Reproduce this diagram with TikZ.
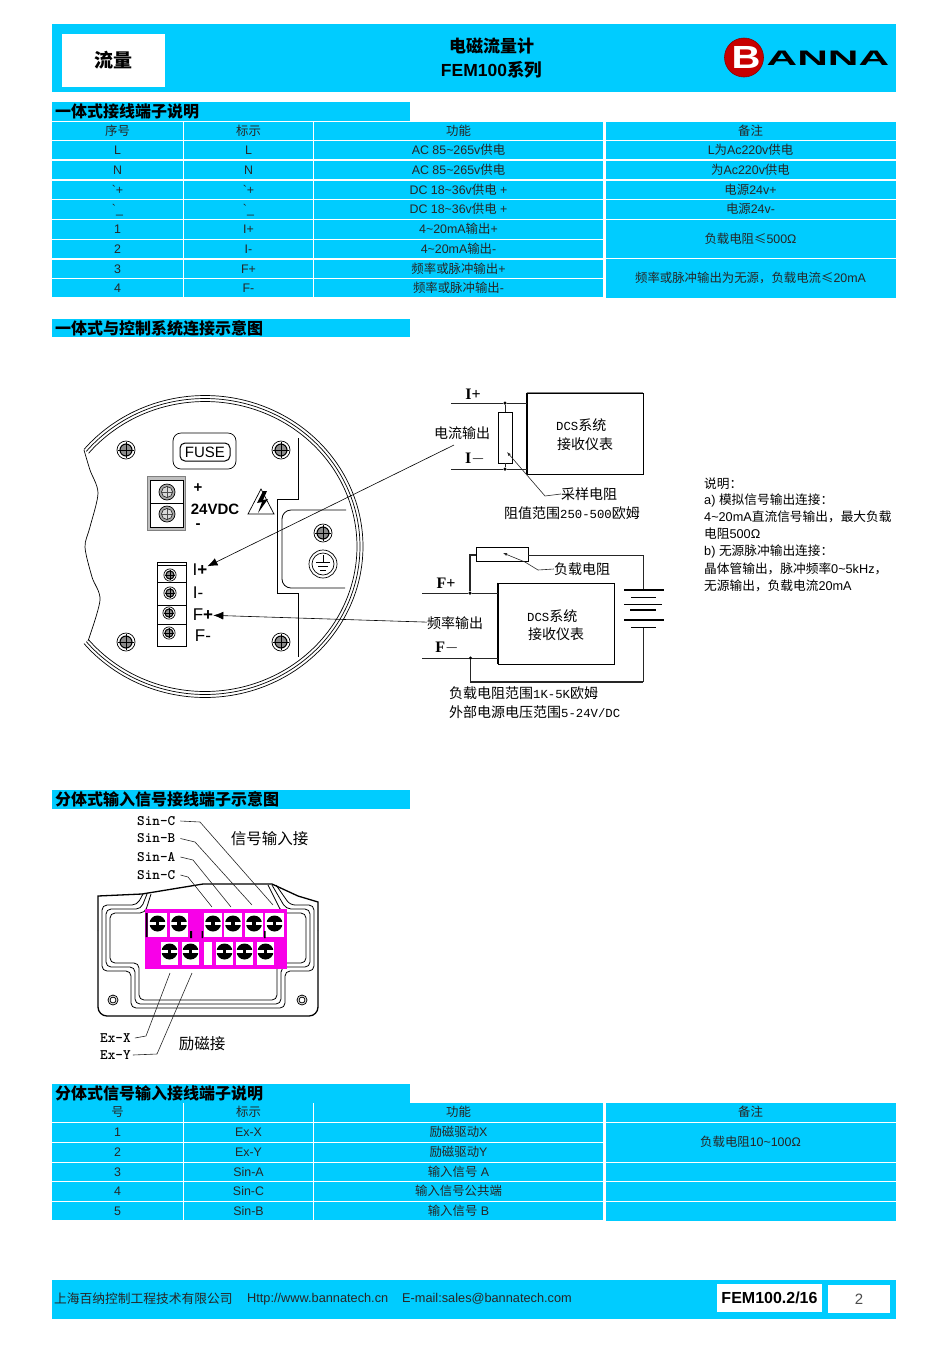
\documentclass[tikz,border=0pt]{standalone}
\usepackage{fontspec}
\setmainfont{Liberation Sans}
\newfontfamily\cjk{Noto Sans CJK SC}
\newfontfamily\slab{Liberation Serif}
\newfontfamily\lmono{Liberation Mono}
\usetikzlibrary{arrows.meta}
\definecolor{bannablue}{HTML}{00CCFF}
\definecolor{termpink}{HTML}{F800E8}
\newcommand{\fs}[1]{\fontsize{#1}{#1}\selectfont}
\newcommand{\cn}[1]{{\cjk #1}}
\newcommand{\lm}[1]{{\lmono\fs{12.3}#1}}
\newcommand{\tld}{\textasciitilde}
\tikzset{
	cell/.style={fill=bannablue,inner sep=0pt,minimum height=18.5pt,text height=10pt,text depth=2pt,font=\fs{12.4},text=black!85},
	cola/.style={cell,minimum width=131pt},
	colb/.style={cell,minimum width=129pt},
	colc/.style={cell,minimum width=289pt},
	cold/.style={cell,minimum width=290pt},
	secbar/.style={fill=bannablue,anchor=west,inner sep=0pt,inner xsep=3pt,text width=352pt,text height=13.5pt,text depth=1.5pt,minimum height=18.5pt,font=\fs{16}\bfseries},
	lbl/.style={inner sep=0pt,font=\fs{14}\cjk},
	mixed/.style={inner sep=0pt,anchor=west,font=\fs{14}},
	mono/.style={inner sep=0pt,anchor=west,font=\fs{14.5}\ttfamily\bfseries},
	note/.style={inner sep=0pt,anchor=west,font=\fs{12.7}},
	pole/.style={inner sep=0pt,font=\fs{16}\slab\bfseries},
	wire/.style={line width=.8pt,black!85},
	pointer/.style={line width=.6pt,-{Latex[length=10pt,width=8pt]}},
	leader/.style={line width=.6pt,black!85},
	dot/.style={circle,fill=black,inner sep=0pt,minimum size=3.5pt},
	screw/.pic={
		\draw[line width=.7pt,fill=white] (0,0) circle (9pt);
		\draw[line width=1.1pt,fill=black!45] (0,0) circle (6pt);
		\draw[line width=.8pt] (-8,0) -- (8,0) (0,-8) -- (0,8);
	},
	lightscrew/.pic={
		\draw[line width=.7pt,fill=black!35] (0,0) circle (8pt);
		\draw[line width=.5pt,fill=black!15] (0,0) circle (5.5pt);
		\draw[black!70,line width=.9pt] (-5,0) -- (5,0) (0,-5) -- (0,5);
	},
	lug/.pic={
		\fill[black] (0,0) circle (8pt);
		\fill[white] (-8.5,-1.5) rectangle (8.5,1.5);
		\fill[black] (-1.8,-2.5) rectangle (1.8,2.5);
	}
}
\begin{document}
\begin{tikzpicture}[x=1pt,y=-1pt]
	\useasboundingbox (0,0) rectangle (950,1345);
	% banner
	\fill[bannablue] (52,24) rectangle (896,92);
	\node[fill=white,minimum width=103pt,minimum height=53pt,inner sep=0pt,font=\fs{19}\bfseries\cjk] (kind) at (113.5,60.5) {流量};
	\node[inner sep=0pt,font=\fs{17}\bfseries\cjk] (title) at (491.5,46) {电磁流量计};
	\node[inner sep=0pt,font=\fs{17.5}\bfseries] (series) at (491.5,70) {FEM100\cn{系列}};
	\node[circle,draw=red!55!black,fill=red!78!black,line width=.6pt,minimum size=39pt,inner sep=0pt] (logoring) at (744,57.5) {};
	\node[inner sep=0pt,xscale=1.25,text=white,font=\fs{32}\bfseries] (logob) at (746,57.5) {B};
	\node[inner sep=0pt,xscale=2.02,font=\fs{21}\bfseries] (logoname) at (828,58.5) {ANNA};

	% first table
	\node[secbar] (seca) at (52,111.5) {\cn{一体式接线端子说明}};
	\foreach \ry/\ta/\tb/\tc in {
		131/\cn{序号}/\cn{标示}/\cn{功能},
		150/L/L/{AC 85\tld265v\cn{供电}},
		170/N/N/{AC 85\tld265v\cn{供电}},
		190/\textasciigrave+/\textasciigrave+/{DC 18\tld36v\cn{供电} +},
		209.5/\textasciigrave\_/\textasciigrave\_/{DC 18\tld36v\cn{供电} +},
		229.5/1/I+/{4\tld20mA\cn{输出}+},
		249/2/I-/{4\tld20mA\cn{输出}-},
		269/3/F+/{\cn{频率或脉冲输出}+},
		288/4/F-/{\cn{频率或脉冲输出}-}}{
		\node[cola] (a\ry) at (117.5,\ry) {\ta};
		\node[colb] (b\ry) at (248.5,\ry) {\tb};
		\node[colc] (c\ry) at (458.5,\ry) {\tc};
	}
	\foreach \ry/\td in {
		131/\cn{备注},
		150/L\cn{为}Ac220v\cn{供电},
		170/\cn{为}Ac220v\cn{供电},
		190/\cn{电源}24v+,
		209.5/\cn{电源}24v-}{
		\node[cold] (d\ry) at (750.5,\ry) {\td};
	}
	\node[cold,minimum height=38.5pt] (dload) at (750.5,239) {\cn{负载电阻≤}500Ω};
	\node[cold,minimum height=38.5pt] (dpulse) at (750.5,278.5) {\cn{频率或脉冲输出为无源，负载电流≤}20mA};

	\node[secbar] (secb) at (52,328) {\cn{一体式与控制系统连接示意图}};

	% meter body
	\foreach \ox/\oy in {158/151,155/148,152/145}{
		\draw[line width=.7pt] plot[smooth,domain=140:-140,samples=90] ({205+\ox*cos(\x)},{546.5-\oy*sin(\x)});
	}
	\draw[line width=.7pt] plot[smooth] coordinates {(84,450) (90,470) (98,493) (90,527) (85,547) (92,577) (100,600) (88,641)};
	\draw[line width=.9pt] (298,438) -- (298,499) -- (277,499) -- (277,593) -- (298,593) -- (298,657);
	\draw[line width=.8pt,rounded corners=9pt] (346,510) -- (282,510) -- (282,588) -- (345,588);
	\foreach \sx/\sy in {126/450,281/450,126/642,281/642,323/533}{
		\pic at (\sx,\sy) {screw};
	}
	\draw[line width=.7pt] (323,564) circle (14pt) circle (11pt);
	\draw[line width=.7pt] (323,555) -- (323,562) (316,562) -- (330,562) (318,566) -- (328,566) (320,570) -- (326,570);
	\node[draw,rounded corners=8pt,line width=.7pt,minimum width=63pt,minimum height=36pt] (fusecase) at (204.5,451) {};
	\node[draw,rounded corners=5pt,line width=1pt,minimum width=50pt,minimum height=18pt,inner sep=0pt,font=\fs{15}] (fuse) at (205,452) {FUSE};
	% 24V terminal
	\draw[gray,fill=black!25] (147,476) rectangle (185,530);
	\draw[fill=white,line width=1pt] (150,480) rectangle (183,503) (150,503) rectangle (183,527);
	\pic at (167,492) {lightscrew};
	\pic at (167,514) {lightscrew};
	\node[inner sep=0pt,font=\fs{15}\bfseries] (vplus) at (198,488) {+};
	\node[inner sep=0pt,font=\fs{15}\bfseries] (vname) at (215,509) {24VDC};
	\node[inner sep=0pt,font=\fs{15}\bfseries] (vminus) at (198,526) {-};
	\draw[line width=.7pt] (248,514) -- (261,489) -- (274,514) -- cycle;
	\fill (263,491) -- (257,503) -- (262,502) -- (258,513) -- (268,499) -- (263,500) -- (267,491) -- cycle;
	% signal terminal
	\draw[line width=.9pt,fill=white] (157,562) rectangle (186,646);
	\draw[line width=.9pt] (157,565) -- (186,565) (157,582) -- (186,582) (157,605) -- (186,605) (157,624) -- (186,624);
	\foreach \sx/\sy in {170/575,170/593,169/613,169/633}{
		\pic[scale=.68] at (\sx,\sy) {screw};
	}
	\node[inner sep=0pt,font=\fs{17}] (iplus) at (200,570) {I\textbf{+}};
	\node[inner sep=0pt,font=\fs{17}] (iminus) at (198,593) {I-};
	\node[inner sep=0pt,font=\fs{17}] (fplus) at (203,615) {F\textbf{+}};
	\node[inner sep=0pt,font=\fs{17}] (fminus) at (203,636) {F-};

	% current loop
	\node[draw,minimum width=116pt,minimum height=81pt,inner sep=0pt,line width=.8pt] (dcsa) at (585,433.5) {};
	\draw[gray,line width=1.2pt] (dcsa.north west) -- (dcsa.north east);
	\draw[line width=1.2pt] (dcsa.north west) -- (dcsa.south west);
	\node[mixed] (dcsatop) at (556,425) {\lm{DCS}\cn{系统}};
	\node[lbl] (dcsabot) at (585,444) {接收仪表};
	\node[draw,minimum width=14pt,minimum height=51pt,inner sep=0pt,line width=.9pt] (sampres) at (505,437.5) {};
	\coordinate (ipin) at (451,403);
	\coordinate (imin) at (451,469);
	\node[dot] (idot) at (505,403) {};
	\node[dot] (jdot) at (505,469) {};
	\draw[wire] (ipin) -- (idot) -- (idot -| dcsa.west);
	\draw[wire] (imin) -- (jdot) -- (jdot -| dcsa.west);
	\draw[wire] (idot) -- (sampres);
	\draw[wire] (jdot) -- (sampres);
	\node[pole] (ipole) at (473,394) {I+};
	\node[pole] (ipolem) at (475,459) {I$-$};
	\node[lbl] (curlabel) at (462,433) {电流输出};
	\coordinate (curtail) at (454,445);
	\draw[pointer] (curtail) -- (iplus);
	\node[lbl] (samplabel) at (589,494) {采样电阻};
	\coordinate (sampbend) at (545,496);
	\coordinate (sampknee) at (526,474);
	\coordinate (samptip) at (507,452);
	\draw[leader,-{Latex[length=4pt,width=3pt]}] (samplabel.west) -- (sampbend) -- (sampknee) -- (samptip);
	\node[mixed] (samprange) at (504,513) {\cn{阻值范围}\lm{250-500}\cn{欧姆}};

	% frequency loop
	\node[draw,minimum width=116pt,minimum height=81pt,inner sep=0pt,line width=.8pt] (dcsb) at (556,623.5) {};
	\draw[line width=1.2pt] (dcsb.north west) -- (dcsb.south west);
	\node[mixed] (dcsbtop) at (527,616) {\lm{DCS}\cn{系统}};
	\node[lbl] (dcsbbot) at (556,634) {接收仪表};
	\node[draw,minimum width=52pt,minimum height=14pt,inner sep=0pt,line width=.9pt] (loadres) at (502,554) {};
	\coordinate (fpin) at (422,593);
	\coordinate (fmin) at (422,658);
	\node[dot] (fdot) at (470,593) {};
	\node[dot] (gdot) at (470.5,658) {};
	\coordinate (loadleft) at (470,555);
	\coordinate (batright) at (643,555);
	\coordinate (battop) at (643,590);
	\coordinate (batbot) at (643,627);
	\coordinate (retright) at (643,682);
	\coordinate (retleft) at (470.5,682);
	\draw[wire] (fpin) -- (fdot) -- (fdot -| dcsb.west);
	\draw[wire] (fmin) -- (gdot) -- (gdot -| dcsb.west);
	\draw[wire,line width=1.1pt] (fdot) -- (loadleft) -- (loadleft -| loadres.west);
	\draw[wire] (loadres.east |- batright) -- (batright) -- (battop);
	\draw[wire] (batbot) -- (retright);
	\draw[wire,line width=1.1pt] (retright) -- (retleft) -- (gdot);
	\draw[line width=1.3pt] (624,590) -- (664,590) (624,620) -- (664,620) (630,610) -- (656,610);
	\draw[line width=.6pt] (631,597) -- (656,597) (624,604) -- (662,604) (631,627) -- (656,627);
	\node[pole] (fpole) at (446,583) {F+};
	\node[pole] (fpolem) at (447,648) {F$-$};
	\node[lbl] (loadlabel) at (582,569) {负载电阻};
	\coordinate (loadbend) at (538,570);
	\coordinate (loadknee) at (525,562);
	\coordinate (loadtip) at (503,553);
	\draw[leader,-{Latex[length=4pt,width=3pt]}] (loadlabel.west) -- (loadbend) -- (loadknee) -- (loadtip);
	\node[lbl] (freqlabel) at (455,623) {频率输出};
	\draw[pointer] (freqlabel) -- (fplus);
	\node[mixed] (loadrange) at (449,693) {\cn{负载电阻范围}\lm{1K-5K}\cn{欧姆}};
	\node[mixed] (powerrange) at (449,712) {\cn{外部电源电压范围}\lm{5-24V/DC}};

	% remarks
	\foreach \ny/\nt in {
		484/\cn{说明：},
		500/a) \cn{模拟信号输出连接：},
		517/4\tld20mA\cn{直流信号输出，最大负载},
		534/\cn{电阻}500Ω,
		551/b) \cn{无源脉冲输出连接：},
		568.5/\cn{晶体管输出，脉冲频率}0\tld5kHz\cn{，},
		586/\cn{无源输出，负载电流}20mA}{
		\node[note] (rem\ny) at (704,\ny) {\nt};
	}

	% split type terminal box
	\node[secbar] (secc) at (52,799.5) {\cn{分体式输入信号接线端子示意图}};
	\draw[line width=1.3pt,rounded corners=9pt] (98,930) -- (98,1016) -- (318,1016) -- (318,930);
	\draw[line width=1.3pt] (98,930) -- (98,896) -- (142,894) -- (203,884) -- (272,884) -- (298,896) -- (318,902) -- (318,930);
	\foreach \o in {0,4,8}{
		\draw[line width=.8pt,rounded corners=5pt] (143+\o,894) -- (137+\o,905+\o) -- (102+\o,905+\o) -- (102+\o,971-\o) -- (131+\o,971-\o) -- (131+\o,1008-\o) -- (285-\o,1008-\o) -- (285-\o,971-\o) -- (314-\o,971-\o) -- (314-\o,905+\o) -- (290-\o,905+\o) -- (276-\o,885);
	}
	\draw[line width=.8pt] (113,1000) circle (5pt) circle (3pt) (302,1000) circle (5pt) circle (3pt);
	\fill[termpink] (145,909) rectangle (287,969);
	\foreach \tx/\twd in {157.5/19,179/18,213/18,233/18,254/18,274.5/19}{
		\fill[white] (\tx-\twd/2,913) rectangle (\tx+\twd/2,937);
		\pic at (\tx,923.5) {lug};
	}
	\foreach \tx/\twd in {169.5/17,190.5/17,224.5/17,244.5/17,265.5/17}{
		\fill[white] (\tx-\twd/2,942) rectangle (\tx+\twd/2,965);
		\pic at (\tx,951.5) {lug};
	}
	\fill[white] (204,942) rectangle (212,965);
	\fill (145.5,913) rectangle (147.5,937) (190,931) rectangle (192,938) (201.5,931) rectangle (203,938) (264,931) rectangle (265.5,938);
	\node[mono] (sinctop) at (137,821) {Sin-C};
	\node[mono] (sinb) at (137,838.5) {Sin-B};
	\node[mono] (sina) at (137,857) {Sin-A};
	\node[mono] (sinclow) at (137,875) {Sin-C};
	\node[inner sep=0pt,font=\fs{15.5}\cjk] (siglabel) at (269.5,839) {信号输入接};
	\foreach \from/\ax/\ay/\bx/\by in {sinctop/200/822/273/905,sinb/195/842/252/905,sina/193/860/231/907,sinclow/188/877/212/907}{
		\coordinate (\from bend) at (\ax,\ay);
		\coordinate (\from end) at (\bx,\by);
		\draw[leader] ([xshift=5pt]\from.east) -- (\from bend) -- (\from end);
	}
	\node[mono] (exx) at (100,1038) {Ex-X};
	\node[mono] (exy) at (100,1055) {Ex-Y};
	\node[inner sep=0pt,font=\fs{15.5}\cjk] (exlabel) at (202,1044) {励磁接};
	\coordinate (exxbend) at (146,1036);
	\coordinate (exxend) at (170,973);
	\coordinate (exybend) at (157,1054);
	\coordinate (exyend) at (192,973);
	\draw[leader] ([xshift=4pt]exx.east) -- (exxbend) -- (exxend);
	\draw[leader] ([xshift=2pt]exy.east) -- (exybend) -- (exyend);

	% second table
	\node[secbar] (secd) at (52,1093.5) {\cn{分体式信号输入接线端子说明}};
	\foreach \ry/\ta/\tb/\tc in {
		1112.5/\cn{号}/\cn{标示}/\cn{功能},
		1132.5/1/Ex-X/\cn{励磁驱动}X,
		1152.5/2/Ex-Y/\cn{励磁驱动}Y,
		1172/3/Sin-A/\cn{输入信号} A,
		1191.5/4/Sin-C/\cn{输入信号公共端},
		1211/5/Sin-B/\cn{输入信号} B}{
		\node[cola] (a\ry) at (117.5,\ry) {\ta};
		\node[colb] (b\ry) at (248.5,\ry) {\tb};
		\node[colc] (c\ry) at (458.5,\ry) {\tc};
	}
	\node[cold] (dsplit) at (750.5,1112.5) {\cn{备注}};
	\node[cold,minimum height=38.5pt] (dcoil) at (750.5,1142.5) {\cn{负载电阻}10\tld100Ω};
	\foreach \ry in {1172,1191.5,1211.5}{
		\node[cold] (d\ry) at (750.5,\ry) {};
	}

	% footer
	\fill[bannablue] (52,1280) rectangle (896,1319);
	\node[inner sep=0pt,anchor=west,font=\fs{12.75},text=black!85] (company) at (54,1299) {\cn{上海百纳控制工程技术有限公司}};
	\node[inner sep=0pt,anchor=west,font=\fs{12.75},text=black!85] (website) at (247,1299) {Http://www.bannatech.cn};
	\node[inner sep=0pt,anchor=west,font=\fs{12.75},text=black!85] (email) at (402,1299) {E-mail:sales@bannatech.com};
	\node[fill=white,inner sep=0pt,minimum width=105pt,minimum height=28pt,font=\fs{16}\bfseries] (docno) at (769.5,1298) {FEM100.2/16};
	\node[fill=white,inner sep=0pt,minimum width=62pt,minimum height=28pt,font=\fs{15},text=black!70] (pageno) at (859,1299) {2};
\end{tikzpicture}
\end{document}
